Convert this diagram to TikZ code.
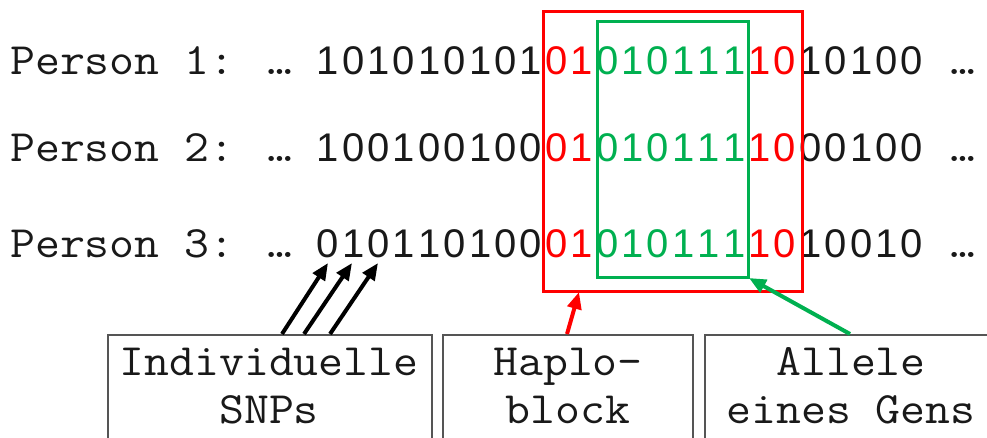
\documentclass[tikz,border=0pt]{standalone}
\usepackage{fontspec}
\usetikzlibrary{arrows.meta}
\newfontfamily\monof{Latin Modern Mono}[FakeStretch=1.08]
\newfontfamily\dsansf{Liberation Sans}
\definecolor{myred}{RGB}{255,0,0}
\definecolor{mygreen}{RGB}{0,176,80}
\definecolor{boxgray}{RGB}{85,85,85}
\definecolor{txtgray}{RGB}{25,25,25}
\makeatletter
\newcommand\digseq[1]{\expandafter\digseq@aux#1\relax}
\def\digseq@aux#1{\ifx#1\relax\else\makebox[25.4pt]{#1}\expandafter\digseq@aux\fi}
\makeatother
\tikzset{
  rowlbl/.style={anchor=base west, inner sep=0pt, text=txtgray, font=\monof\fontsize{44.8pt}{48pt}\selectfont},
  digs/.style={anchor=base west, inner sep=0pt, text=txtgray, font=\dsansf\fontsize{40pt}{48pt}\selectfont},
  lblbox/.style={draw=boxgray, line width=1.5pt, anchor=north west, inner sep=0pt},
  boxtxt/.style={anchor=base, inner sep=0pt, align=center, text=txtgray, font=\monof\fontsize{44.8pt}{48pt}\selectfont},
  snparrow/.style={line width=4pt, -{Triangle[length=17pt,width=14pt]}},
}
\begin{document}
\begin{tikzpicture}[x=1pt,y=-1pt]
\useasboundingbox (0,0) rectangle (987,438);
% rows
\foreach \r/\y/\a/\e in {1/75/101010101/10100, 2/162/100100100/00100, 3/258/010110100/10010}{
  \node[rowlbl] (p\r) at (10,\y) {Person \r: …};
  \node[digs] (d\r a) at (315,\y) {\digseq{\a}};
  \node[digs, text=myred] (d\r b) at (543.6,\y) {\digseq{01}};
  \node[digs, text=mygreen] (d\r c) at (594.4,\y) {\digseq{010111}};
  \node[digs, text=myred] (d\r d) at (746.8,\y) {\digseq{10}};
  \node[digs] (d\r e) at (797.6,\y) {\digseq{\e}};
  \node[rowlbl] (el\r) at (950,\y) {…};
}
% highlight boxes
\draw[myred, line width=3pt] (543,12) rectangle (802,291);
\draw[mygreen, line width=3pt] (597,22) rectangle (748,277);
\coordinate (hb) at (579,292);
\coordinate (gb) at (749,278);
% bottom boxes
\node[lblbox, minimum width=324pt, minimum height=130pt] (b1) at (107,334) {};
\node[lblbox, minimum width=250pt, minimum height=130pt] (b2) at (442,334) {};
\node[lblbox, minimum width=294pt, minimum height=130pt] (b3) at (704,334) {};
\node[boxtxt] (t1) at (269,423) {Individuelle\\SNPs};
\node[boxtxt] (t2) at (568,423) {Haplo-\\block};
\node[boxtxt] (t3) at (851,423) {Allele\\eines Gens};
% arrows
\coordinate (s1) at (282,334); \coordinate (e1) at (328,263);
\coordinate (s2) at (304,334); \coordinate (e2) at (352,263);
\coordinate (s3) at (330,334); \coordinate (e3) at (378,263);
\draw[snparrow] (s1) -- (e1);
\draw[snparrow] (s2) -- (e2);
\draw[snparrow] (s3) -- (e3);
\coordinate (s4) at (567,334);
\draw[snparrow, myred] (s4) -- (hb);
\coordinate (s5) at (850,334);
\draw[snparrow, mygreen] (s5) -- (gb);
\end{tikzpicture}
\end{document}
